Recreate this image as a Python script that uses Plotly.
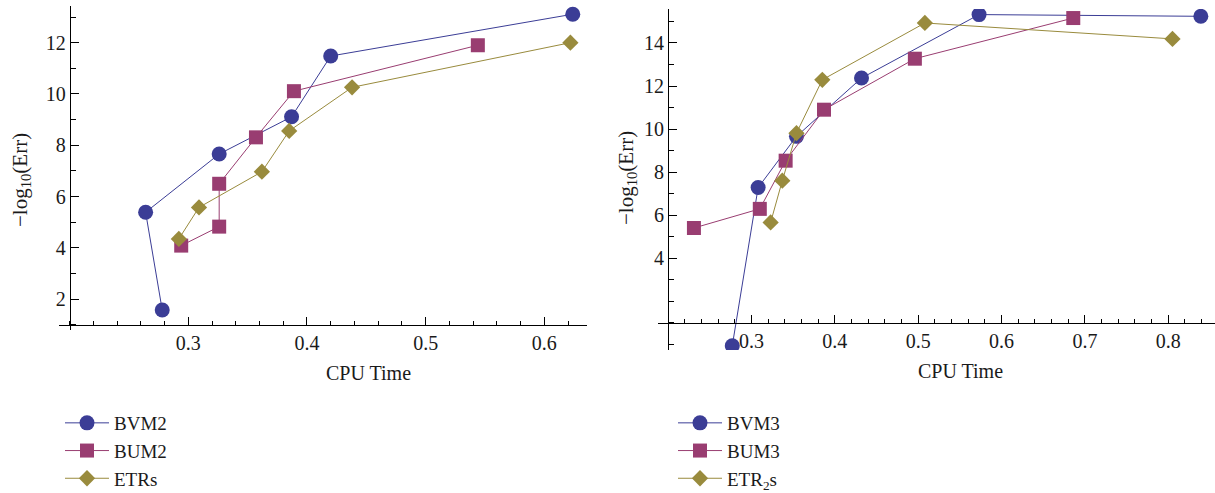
import plotly.graph_objects as go

# ---------------- data ----------------
# Left panel (order as connected in the chart)
bvm2_x = [0.278, 0.264, 0.326, 0.387, 0.420, 0.624]
bvm2_y = [1.58, 5.39, 7.66, 9.11, 11.48, 13.11]
bum2_x = [0.294, 0.326, 0.326, 0.357, 0.389, 0.544]
bum2_y = [4.09, 4.83, 6.50, 8.31, 10.11, 11.90]
etrs_x = [0.292, 0.309, 0.362, 0.385, 0.438, 0.622]
etrs_y = [4.35, 5.58, 6.97, 8.56, 10.26, 12.00]

# Right panel
bvm3_x = [0.277, 0.308, 0.354, 0.432, 0.573, 0.839]
bvm3_y = [-0.07, 7.28, 9.66, 12.37, 15.32, 15.24]
bum3_x = [0.231, 0.310, 0.341, 0.387, 0.496, 0.686]
bum3_y = [5.40, 6.29, 8.53, 10.90, 13.27, 15.16]
etr2s_x = [0.323, 0.337, 0.354, 0.385, 0.508, 0.805]
etr2s_y = [5.66, 7.60, 9.81, 12.29, 14.93, 14.19]

left_xticks = [0.3, 0.4, 0.5, 0.6]
left_yticks = [2, 4, 6, 8, 10, 12]
right_xticks = [0.3, 0.4, 0.5, 0.6, 0.7, 0.8]
right_yticks = [4, 6, 8, 10, 12, 14]

# ---------------- style ----------------
W, H = 1215, 493
FONT = "Liberation Serif"
TXT = "#1a1a1a"
C_BLUE = "#3b3d96"
C_MAG = "#993d71"
C_GOLD = "#998b3d"


def fx(px):
    return px / W


def fy(py):
    return 1 - py / H


L_XDOM = [fx(59), fx(587)]
L_YDOM = [fy(330), fy(6)]
L_XR = [0.191, 0.636]
L_YR = [0.80, 13.43]

R_XDOM = [fx(658), 1.0]
R_YDOM = [fy(350), fy(9)]
R_XR = [0.1879, 0.856]
R_YR = [-0.27, 15.58]

ORIGIN = (0.2, 1.0)


def pos(dom, rng, v):
    return dom[0] + (v - rng[0]) / (rng[1] - rng[0]) * (dom[1] - dom[0])


fig = go.Figure()


def add(x, y, name, color, symbol, size, xa, ya, leg):
    fig.add_trace(go.Scatter(
        x=x, y=y, name=name, mode="lines+markers",
        line=dict(color=color, width=1),
        marker=dict(color=color, symbol=symbol, size=size, line=dict(width=0)),
        xaxis=xa, yaxis=ya, legend=leg,
    ))


add(bvm2_x, bvm2_y, "BVM2", C_BLUE, "circle", 15, "x", "y", "legend")
add(bum2_x, bum2_y, "BUM2", C_MAG, "square", 14, "x", "y", "legend")
add(etrs_x, etrs_y, "ETRs", C_GOLD, "diamond", 12.5, "x", "y", "legend")

add(bvm3_x, bvm3_y, "BVM3", C_BLUE, "circle", 15, "x2", "y2", "legend2")
add(bum3_x, bum3_y, "BUM3", C_MAG, "square", 14, "x2", "y2", "legend2")
add(etr2s_x, etr2s_y, "ETR<sub>2</sub>s", C_GOLD, "diamond", 12.5, "x2", "y2", "legend2")

tickfont = dict(family=FONT, size=20, color=TXT)


def xaxis(dom, rng, ydom, yrng, ticks):
    return dict(
        domain=dom, range=rng, anchor="free", position=pos(ydom, yrng, ORIGIN[1]),
        showline=True, linecolor="black", linewidth=1,
        tickmode="array", tickvals=ticks, ticktext=[f"{t:.1f}" for t in ticks],
        ticks="inside", ticklen=8, tickwidth=1, tickcolor="black",
        minor=dict(tickmode="linear", tick0=0.2, dtick=0.02, ticks="inside",
                   ticklen=4, tickwidth=1, tickcolor="black"),
        showgrid=False, zeroline=False, tickfont=tickfont, fixedrange=True,
    )


def yaxis(dom, rng, xdom, xrng, ticks):
    return dict(
        domain=dom, range=rng, anchor="free", position=pos(xdom, xrng, ORIGIN[0]),
        showline=True, linecolor="black", linewidth=1,
        tickmode="array", tickvals=ticks, ticktext=[str(t) for t in ticks],
        ticks="inside", ticklen=8, tickwidth=1, tickcolor="black",
        minor=dict(tickmode="linear", tick0=0, dtick=1, ticks="inside",
                   ticklen=5, tickwidth=1, tickcolor="black"),
        showgrid=False, zeroline=False, tickfont=tickfont, fixedrange=True,
    )


legfont = dict(family=FONT, size=19, color=TXT)


def title(text, px, py, angle=0, size=20):
    return dict(text=text, x=fx(px), y=fy(py), xref="paper", yref="paper",
                xanchor="center", yanchor="middle", showarrow=False,
                textangle=angle, font=dict(family=FONT, size=size, color=TXT))


fig.update_layout(
    width=W, height=H,
    margin=dict(l=0, r=0, t=0, b=0, autoexpand=False),
    paper_bgcolor="white", plot_bgcolor="white",
    font=dict(family=FONT, size=20, color=TXT),
    xaxis=xaxis(L_XDOM, L_XR, L_YDOM, L_YR, left_xticks),
    yaxis=yaxis(L_YDOM, L_YR, L_XDOM, L_XR, left_yticks),
    xaxis2=xaxis(R_XDOM, R_XR, R_YDOM, R_YR, right_xticks),
    yaxis2=yaxis(R_YDOM, R_YR, R_XDOM, R_XR, right_yticks),
    legend=dict(x=fx(60), y=fy(404), xanchor="left", yanchor="top",
                font=legfont, bgcolor="rgba(0,0,0,0)", tracegroupgap=0,
                itemwidth=44),
    legend2=dict(x=fx(673), y=fy(404), xanchor="left", yanchor="top",
                 font=legfont, bgcolor="rgba(0,0,0,0)", tracegroupgap=0,
                 itemwidth=44),
    showlegend=True,
    annotations=[
        title("CPU Time", 368, 373),
        title("CPU Time", 960, 371),
        title("\u2212log<sub>10</sub>(Err)", 21, 180, -90, 21),
        title("\u2212log<sub>10</sub>(Err)", 627, 178, -90, 21),
    ],
)

fig.write_html("out.html")
